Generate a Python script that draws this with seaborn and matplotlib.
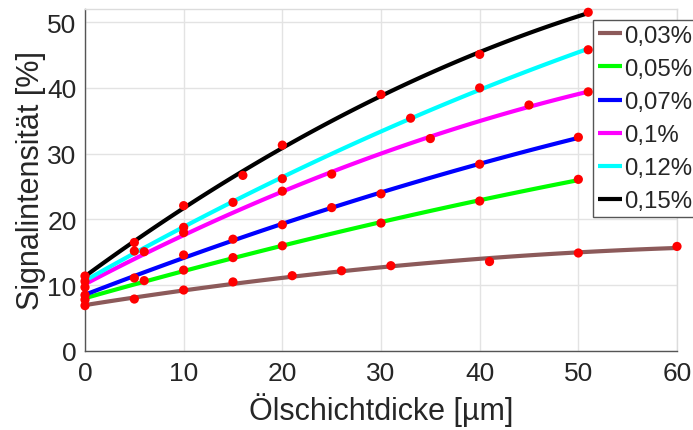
import numpy as np
import pandas as pd
import matplotlib
matplotlib.use("Agg")
import matplotlib.pyplot as plt
import seaborn as sns

# ---- data ----
labels = ["0,03%", "0,05%", "0,07%", "0,1%", "0,12%", "0,15%"]
colors = ["#8c5a5a", "#00ff00", "#0000ff", "#ff00ff", "#00ffff", "#000000"]

x_003 = [0, 5, 10, 15, 21, 26, 31, 41, 50, 60]
y_003 = [6.9, 7.9, 9.27, 10.5, 11.45, 12.2, 12.97, 13.6, 14.9, 15.9]
x_005 = [0, 6, 10, 15, 20, 30, 40, 50]
y_005 = [7.8, 10.7, 12.3, 14.2, 16.0, 19.45, 22.8, 26.1]
x_007 = [0, 5, 10, 15, 20, 25, 30, 40, 50]
y_007 = [8.5, 11.1, 14.6, 17.0, 19.2, 21.8, 23.9, 28.4, 32.5]
x_010 = [0, 6, 10, 20, 25, 35, 45, 51]
y_010 = [9.7, 15.1, 18.0, 24.3, 26.9, 32.3, 37.4, 39.4]
x_012 = [0, 5, 10, 15, 20, 33, 40, 51]
y_012 = [10.6, 15.2, 18.8, 22.6, 26.2, 35.4, 40.0, 45.8]
x_015 = [0, 5, 10, 16, 20, 30, 40, 51]
y_015 = [11.4, 16.5, 22.1, 26.7, 31.3, 39.0, 45.1, 51.5]

xs = [x_003, x_005, x_007, x_010, x_012, x_015]
ys = [y_003, y_005, y_007, y_010, y_012, y_015]

x_ticks = [0, 10, 20, 30, 40, 50, 60]
y_ticks = [0, 10, 20, 30, 40, 50]

df = pd.concat(
    [pd.DataFrame({"x": x, "y": y, "series": lab}) for x, y, lab in zip(xs, ys, labels)],
    ignore_index=True,
)

# ---- figure ----
sns.set_theme(style="white")
plt.rcParams["font.family"] = ["Liberation Sans", "DejaVu Sans"]
txt = "#262626"

fig = plt.figure(figsize=(6.93, 4.31), dpi=100)
ax = fig.add_axes([85 / 693, 1 - 352 / 431, (677 - 85) / 693, (352 - 10) / 431])

handles = []
for lab, col in zip(labels, colors):
    sub = df[df["series"] == lab]
    sns.regplot(data=sub, x="x", y="y", order=2, ci=None, scatter=False, ax=ax,
                line_kws=dict(color=col, lw=3.0, solid_capstyle="butt", zorder=2))
    handles.append(ax.get_lines()[-1])

sns.scatterplot(data=df, x="x", y="y", color="#ff0000", s=44, edgecolor="none",
                linewidth=0, ax=ax, zorder=3, legend=False, clip_on=False)

ax.set_xlim(0, 60)
ax.set_ylim(0, 52)
ax.set_xticks(x_ticks)
ax.set_yticks(y_ticks)
ax.grid(True, color="#e3e3e3", lw=1.0)
ax.set_axisbelow(True)
ax.tick_params(axis="both", direction="in", length=5, width=1, color=txt,
               labelsize=19, labelcolor=txt)
ax.tick_params(axis="x", pad=7)
ax.tick_params(axis="y", pad=6)
for s in ["left", "bottom"]:
    ax.spines[s].set_color("#555555")
    ax.spines[s].set_linewidth(1.0)
for s in ["top", "right"]:
    ax.spines[s].set_color("#dcdcdc")
    ax.spines[s].set_linewidth(1.0)

ax.set_xlabel("Ölschichtdicke [µm]", fontsize=22, color=txt, labelpad=5)
ax.set_ylabel("Signalintensität [%]", fontsize=22, color=txt, labelpad=1)

leg = ax.legend(handles=handles, labels=labels, loc="upper left",
                bbox_to_anchor=(593 / 693, 1 - 21 / 431), bbox_transform=fig.transFigure,
                fontsize=17.3, frameon=True, fancybox=False, framealpha=1,
                edgecolor="#555555", handlelength=1.0, handletextpad=0.08,
                labelspacing=0.46, borderpad=0.2, borderaxespad=0)
leg.get_frame().set_linewidth(1.0)
for t in leg.get_texts():
    t.set_color(txt)

fig.savefig("out.png", dpi=100)
